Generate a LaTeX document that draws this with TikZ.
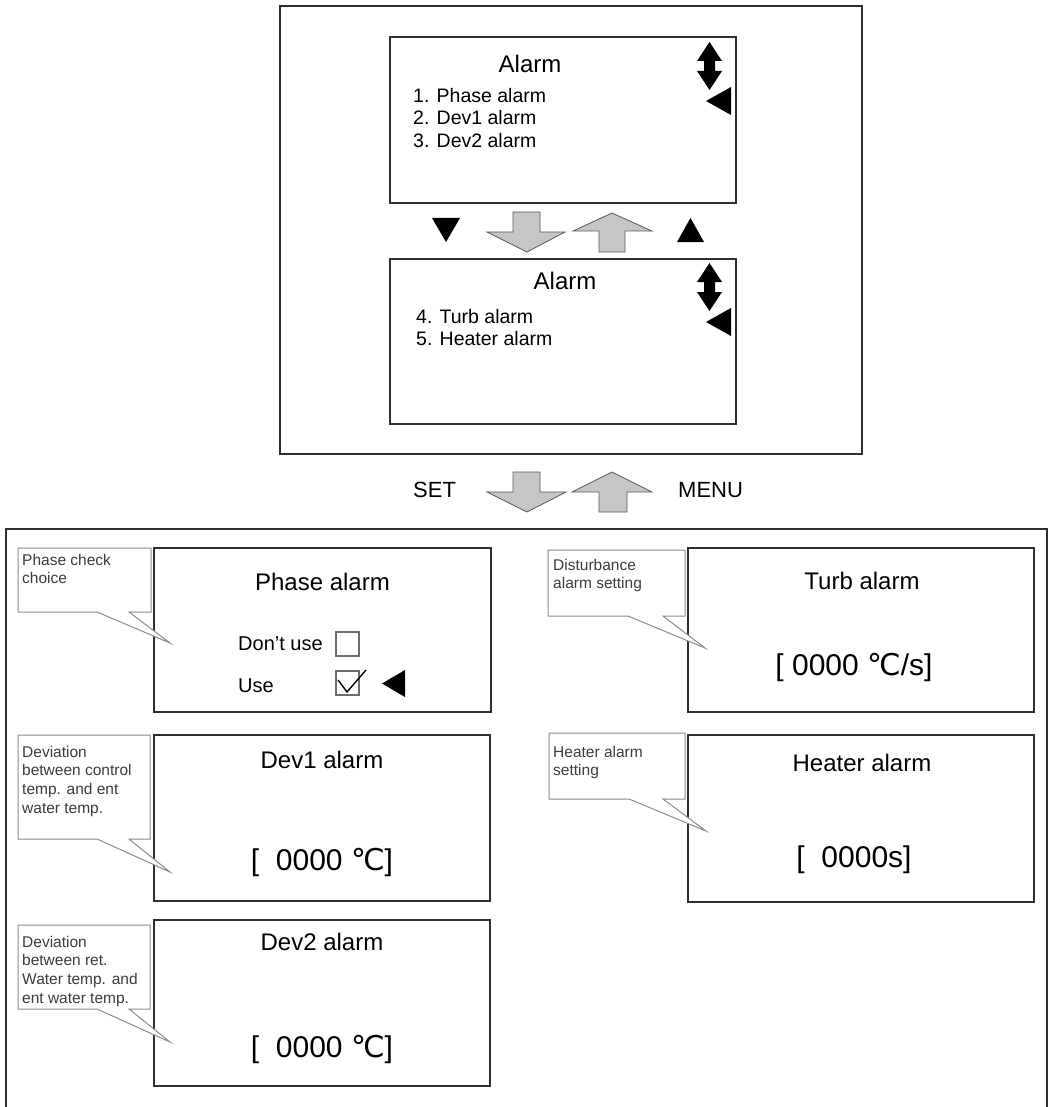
\documentclass[tikz,border=0pt]{standalone}
\usepackage{fontspec}
\setmainfont{Liberation Sans}
\newfontfamily\degfont{DejaVu Sans}
\definecolor{framegray}{HTML}{2E2E2E}
\definecolor{arrowgray}{HTML}{C6C6C6}
\definecolor{notegray}{HTML}{8C8C8C}
\definecolor{notetext}{HTML}{3C3C3C}
\newcommand{\degC}{{\degfont ℃}}
\tikzset{
  frame/.style={draw=framegray, line width=2pt},
  screen/.style={draw=framegray, line width=2.4pt},
  note/.style={draw=notegray, line width=1pt, fill=white},
  notetxt/.style={font=\fontsize{15.5}{18.7}\selectfont, text=notetext, anchor=north west, align=left, inner sep=0pt},
  title/.style={font=\fontsize{24}{28}\selectfont, anchor=base, inner sep=0pt},
  item/.style={font=\fontsize{19.5}{22}\selectfont, anchor=base west, inner sep=0pt},
  value/.style={font=\fontsize{30}{34}\selectfont, anchor=base, inner sep=0pt},
  keytxt/.style={font=\fontsize{22}{26}\selectfont, anchor=base west, inner sep=0pt},
  bigarrow/.style={fill=arrowgray, draw=framegray!80, line width=0.8pt},
  pointer/.style={fill=black, draw=none}
}
\begin{document}
\begin{tikzpicture}[x=1pt, y=-1pt]
\useasboundingbox (0,0) rectangle (1049,1107);

% menu frame
\draw[frame] (280,6) rectangle (862,454);
\draw[screen] (390,37) rectangle (736,203);
\draw[screen] (390,259) rectangle (736,424);

\node[title] (menuA) at (530,73) {Alarm};
\node[item] (itemA) at (413,103) {1. Phase alarm};
\node[item] (itemB) at (413,125) {2. Dev1 alarm};
\node[item] (itemC) at (413,148) {3. Dev2 alarm};

\node[title] (menuB) at (565,289) {Alarm};
\node[item] (itemD) at (416,323) {4. Turb alarm};
\node[item] (itemE) at (416,345) {5. Heater alarm};

% scroll marks
\foreach \dy in {0,221}{
  \fill[pointer] (709.5,42+\dy) -- (722,61+\dy) -- (715,61+\dy) -- (715,71+\dy) -- (722,71+\dy) -- (709.5,90+\dy)
    -- (697,71+\dy) -- (704,71+\dy) -- (704,61+\dy) -- (697,61+\dy) -- cycle;
  \fill[pointer] (731,87+\dy) -- (731,115+\dy) -- (706,101+\dy) -- cycle;
}

% page keys
\fill[pointer] (432,218) -- (460,218) -- (446,242) -- cycle;
\fill[pointer] (677,242) -- (704,242) -- (690.5,218) -- cycle;
\draw[bigarrow] (513,212) -- (540,212) -- (540,232) -- (565,232) -- (527,252) -- (487,232) -- (513,232) -- cycle;
\draw[bigarrow] (612,213) -- (652,231) -- (625,231) -- (625,252) -- (599,252) -- (599,231) -- (573,231) -- cycle;

% SET / MENU
\node[keytxt] (setkey) at (413,497) {SET};
\node[keytxt] (menukey) at (678,497) {MENU};
\draw[bigarrow] (513,472) -- (540,472) -- (540,492) -- (566,492) -- (527,512) -- (487,492) -- (513,492) -- cycle;
\draw[bigarrow] (612,472) -- (652,492) -- (627,492) -- (627,512) -- (599,512) -- (599,492) -- (572,492) -- cycle;

% settings frame
\draw[frame] (6,1107) -- (6,529) -- (1047,529) -- (1047,1107);

% phase alarm
\draw[screen] (154,548) rectangle (491,712);
\draw[note] (18,548) -- (151,548) -- (151,612) -- (129,612) -- (170,643) -- (97,612) -- (18,612) -- cycle;
\node[notetxt] (notePhase) at (22,553.7) {Phase check\\choice};
\node[title] (phase) at (322.5,590) {Phase alarm};
\node[item, font=\fontsize{20}{24}\selectfont] (nouse) at (238,650) {Don't use};
\node[item, font=\fontsize{20}{24}\selectfont] (use) at (238,692) {Use};
\draw[draw=framegray!70, line width=1.2pt] (336,632) rectangle (359,656);
\draw[draw=framegray!70, line width=1.2pt] (336,671) rectangle (359,695);
\draw[line width=1.4pt] (338,680) -- (347,692) -- (366,670);
\fill[pointer] (405,670) -- (405,697) -- (382,683.5) -- cycle;

% turb alarm
\draw[screen] (688,548) rectangle (1034,712);
\draw[note] (548,550) -- (685,550) -- (685,616) -- (663,616) -- (705,648) -- (628,616) -- (548,616) -- cycle;
\node[notetxt] (noteTurb) at (553,558.7) {Disturbance\\alarm setting};
\node[title] (turb) at (862,589) {Turb alarm};
\node[value] (turbval) at (854,675) {[ 0000 \degC/s]};

% dev1 alarm
\draw[screen] (154,735) rectangle (490,901);
\draw[note] (18,735) -- (150,735) -- (150,839) -- (129,839) -- (170,872) -- (97,839) -- (18,839) -- cycle;
\node[notetxt] (noteDevA) at (22,745.7) {Deviation\\between control\\temp. and ent\\water temp.};
\node[title] (devA) at (322,768) {Dev1 alarm};
\node[value] (devAval) at (322,870) {[\ \ 0000 \degC]};

% heater alarm
\draw[screen] (688,735) rectangle (1034,902);
\draw[note] (549,733) -- (685,733) -- (685,799) -- (663,799) -- (706,831) -- (629,799) -- (549,799) -- cycle;
\node[notetxt] (noteHeat) at (553,745.7) {Heater alarm\\setting};
\node[title] (heat) at (862,771) {Heater alarm};
\node[value] (heatval) at (854,867) {[\ \ 0000s]};

% dev2 alarm
\draw[screen] (154,920) rectangle (490,1086);
\draw[note] (18,925) -- (150,925) -- (150,1009) -- (129,1009) -- (170,1042) -- (97,1009) -- (18,1009) -- cycle;
\node[notetxt] (noteDevB) at (22,935.7) {Deviation\\between ret.\\Water temp. and\\ent water temp.};
\node[title] (devB) at (322,950) {Dev2 alarm};
\node[value] (devBval) at (322,1057) {[\ \ 0000 \degC]};
\end{tikzpicture}
\end{document}
